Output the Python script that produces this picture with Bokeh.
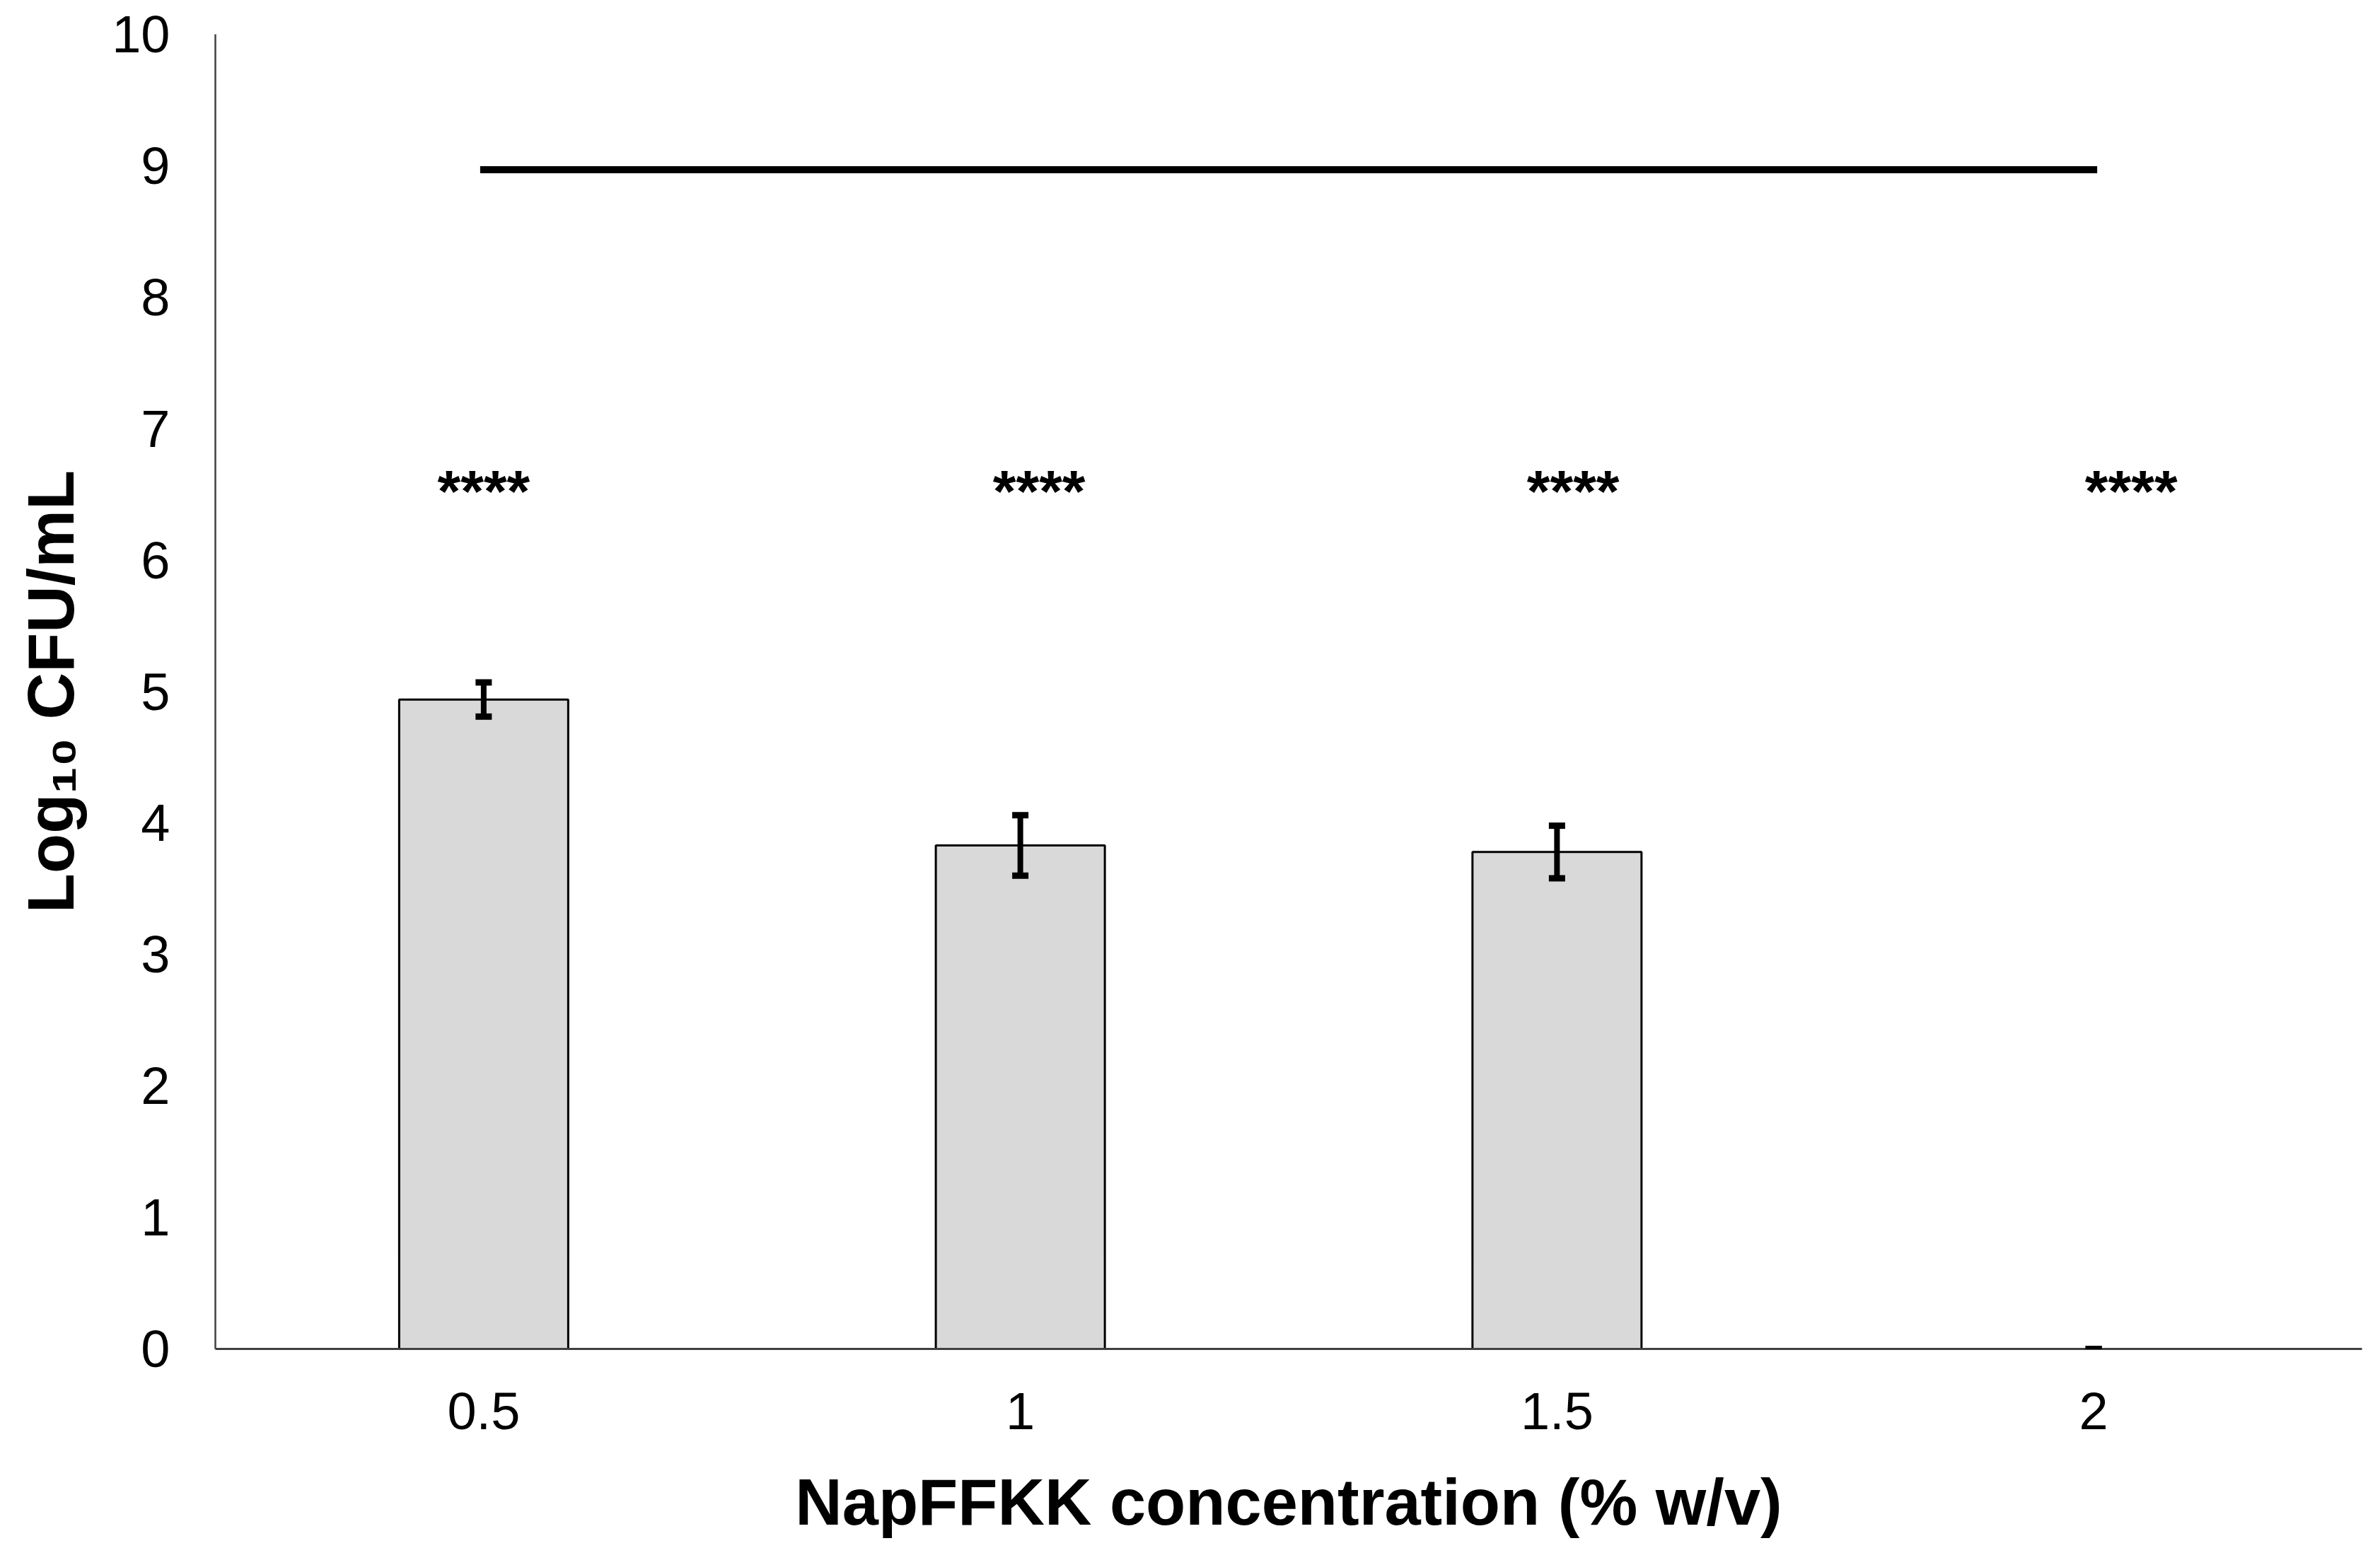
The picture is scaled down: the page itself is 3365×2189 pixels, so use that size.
from bokeh.plotting import figure
from bokeh.models import (ColumnDataSource, Whisker, TeeHead, CDSView, BooleanFilter,
                          FixedTicker, Range1d, FactorRange)
from bokeh.transform import dodge
from bokeh.core.properties import value
from bokeh.embed import file_html
from bokeh.resources import INLINE

# ---- data ----
concentrations = ["0.5", "1", "1.5", "2"]          # NapFFKK % w/v
log_cfu = [4.94, 3.83, 3.78, 0.0]                   # mean Log10 CFU/mL
sd = [0.13, 0.23, 0.20, 0.0]                        # error bars
control_level = 8.97                                # untreated control line
significance = ["****", "****", "****", "****"]
star_level = 6.52
star_offsets = [0.0, 0.035, 0.030, 0.070]
y_ticks = [0, 1, 2, 3, 4, 5, 6, 7, 8, 9, 10]

FONT = "Liberation Sans"

src = ColumnDataSource(dict(
    x=concentrations,
    top=log_cfu,
    upper=[m + e for m, e in zip(log_cfu, sd)],
    lower=[m - e for m, e in zip(log_cfu, sd)],
))

p = figure(
    x_range=FactorRange(*concentrations), y_range=Range1d(0, 10),
    frame_width=3035, frame_height=1859,
    output_backend="svg", toolbar_location=None,
    min_border_left=304, min_border_right=10, min_border_top=48, min_border_bottom=0,
)

# bars (zero-height bar not drawn)
view = CDSView(filter=BooleanFilter([v > 0 for v in log_cfu]))
p.vbar(x="x", top="top", bottom=0, width=0.315, source=src, view=view,
       fill_color="#d9d9d9", line_color="black", line_width=3)

# error bars
w = Whisker(base="x", upper="upper", lower="lower", source=src, dimension="height",
            line_color="black", line_width=8, level="annotation",
            upper_head=TeeHead(size=23, line_width=9, line_color="black"),
            lower_head=TeeHead(size=23, line_width=9, line_color="black"))
p.add_layout(w)

# control line
ctrl = ColumnDataSource(dict(x0=[concentrations[0]], x1=[concentrations[-1]], y=[control_level]))
p.segment(x0="x0", y0="y", x1="x1", y1="y", source=ctrl,
          line_color="black", line_width=10, line_cap="square")

# significance stars
for c, s, off in zip(concentrations, significance, star_offsets):
    ssrc = ColumnDataSource(dict(x=[c], y=[star_level], t=[s]))
    p.text(x=dodge("x", off, range=p.x_range), y="y", text="t", source=ssrc,
           text_font=value(FONT), text_font_style="bold", text_font_size="84px",
           text_align="center", text_baseline="alphabetic", text_color="black")

# axes styling
p.grid.visible = False
p.outline_line_color = None

xa = p.xaxis[0]
xa.axis_label = "NapFFKK concentration (% w/v)"
xa.axis_label_text_font = FONT
xa.axis_label_text_font_style = "bold"
xa.axis_label_text_font_size = "92px"
xa.axis_label_text_color = "black"
xa.axis_label_standoff = 49
xa.major_label_text_font = FONT
xa.major_label_text_font_size = "74px"
xa.major_label_text_color = "black"
xa.major_label_standoff = 56
xa.major_tick_line_color = None
xa.minor_tick_line_color = None
xa.axis_line_color = "#404040"
xa.axis_line_width = 3

ya = p.yaxis[0]
ya.ticker = FixedTicker(ticks=y_ticks)
ya.axis_label = "Log\u2081\u2080 CFU/mL"
ya.axis_label_text_font = FONT
ya.axis_label_text_font_style = "bold"
ya.axis_label_text_font_size = "92px"
ya.axis_label_text_color = "black"
ya.axis_label_standoff = 32
ya.major_label_text_font = FONT
ya.major_label_text_font_size = "74px"
ya.major_label_text_color = "black"
ya.major_label_standoff = 58
ya.major_tick_line_color = None
ya.minor_tick_line_color = None
ya.axis_line_color = "#404040"
ya.axis_line_width = 2.5

open("out.html", "w").write(file_html(p, INLINE))
